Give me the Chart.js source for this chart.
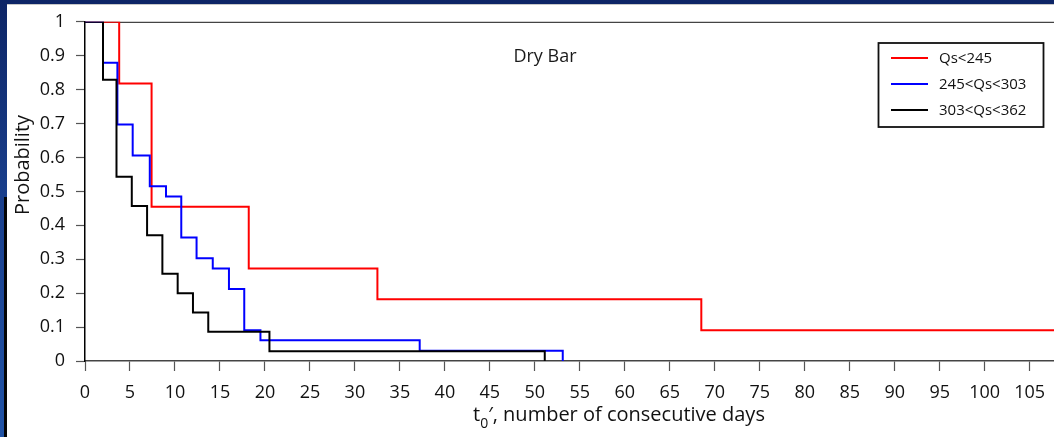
<!DOCTYPE html>
<html>
<head>
  <title>Dry Bar</title>
  <style>
    body {
      margin: 0;
      width: 1054px;
      height: 437px;
      overflow: hidden;
      background: linear-gradient(180deg, #0d2566 0%, #1a3f8c 45%, #2153a6 100%);
    }
    #sheet {
      position: absolute;
      left: 7px;
      top: 4px;
      right: 0;
      bottom: 0;
      background: #fff;
      border-top: 1px solid #c8c8c8;
    }
    #edge {
      position: absolute;
      left: 4px;
      top: 197px;
      width: 3px;
      bottom: 0;
      background: #050505;
    }
    #chart-box {
      position: absolute;
      left: 0;
      top: 0;
      width: 1054px;
      height: 437px;
    }
  </style>
</head>
<body>
  <div id="sheet"></div>
  <div id="edge"></div>
  <div id="chart-box">
    <canvas id="chart" width="1054" height="437"></canvas>
  </div>
  <script src="https://cdn.jsdelivr.net/npm/chart.js"></script>
  <script>
    // values (days, probability)
    const seriesLabels = ["Qs<245", "245<Qs<303", "303<Qs<362"];
    const seriesColors = ["#ff0000", "#0000ff", "#000000"];

    const redDays = [0, 3.8, 7.4, 18.2, 32.5, 68.5, 107.7];
    const redProb = [1, 0.818, 0.455, 0.273, 0.182, 0.091, 0.091];

    const blueDays = [0, 2.0, 3.6, 5.3, 7.2, 9.0, 10.7, 12.4, 14.2, 16.0, 17.7, 19.5, 37.2, 53.1];
    const blueProb = [1, 0.879, 0.697, 0.606, 0.515, 0.485, 0.364, 0.303, 0.273, 0.212, 0.091, 0.061, 0.030, 0];

    const blackDays = [0, 2.0, 3.5, 5.2, 6.9, 8.6, 10.3, 12.0, 13.7, 20.5, 51.1];
    const blackProb = [1, 0.829, 0.543, 0.457, 0.371, 0.257, 0.2, 0.143, 0.086, 0.029, 0];

    const chartTitle = "Dry Bar";
    const yTitle = "Probability";
    const xTitleMain = "t";
    const xTitleSub = "0";
    const xTitleRest = "\u2032, number of consecutive days";

    const xMin = 0, xMax = 107.7, xStep = 5;
    const yMin = 0, yMax = 1, yStep = 0.1;

    const FONT = '"Open Sans", "Noto Sans", sans-serif';

    function toPoints(days, prob) {
      return days.map((d, i) => ({ x: d, y: prob[i] }));
    }

    const allSeries = [
      toPoints(redDays, redProb),
      toPoints(blueDays, blueProb),
      toPoints(blackDays, blackProb)
    ];

    // frame line on top of the plot + title, legend, axis titles
    const decor = {
      id: "decor",
      beforeDatasetsDraw(chart) {
        const { ctx, chartArea: a } = chart;
        ctx.save();
        ctx.strokeStyle = "#444";
        ctx.lineWidth = 1.2;
        ctx.beginPath();
        ctx.moveTo(a.left, a.top + 0.5);
        ctx.lineTo(a.right, a.top + 0.5);
        ctx.stroke();
        ctx.restore();
      },
      afterDraw(chart) {
        const { ctx } = chart;
        ctx.save();

        // title inside plot
        ctx.fillStyle = "#1a1a1a";
        ctx.font = "18px " + FONT;
        ctx.textAlign = "center";
        ctx.textBaseline = "alphabetic";
        ctx.fillText(chartTitle, 545, 62);

        // legend box
        const lx = 878.5, ly = 43, lw = 165, lh = 84;
        ctx.fillStyle = "#fff";
        ctx.fillRect(lx, ly, lw, lh);
        ctx.strokeStyle = "#111";
        ctx.lineWidth = 1.8;
        ctx.strokeRect(lx, ly, lw, lh);
        ctx.font = "15px " + FONT;
        ctx.textAlign = "left";
        ctx.textBaseline = "middle";
        seriesLabels.forEach((lab, i) => {
          const yy = 58 + i * 26;
          ctx.strokeStyle = seriesColors[i];
          ctx.lineWidth = 2;
          ctx.beginPath();
          ctx.moveTo(891, yy);
          ctx.lineTo(928, yy);
          ctx.stroke();
          ctx.fillStyle = "#111";
          ctx.fillText(lab, 939, yy + 1);
        });

        // y axis title
        ctx.fillStyle = "#111";
        ctx.font = "20px " + FONT;
        ctx.textAlign = "center";
        ctx.textBaseline = "alphabetic";
        ctx.translate(29, 165);
        ctx.rotate(-Math.PI / 2);
        ctx.fillText(yTitle, 0, 0);
        ctx.setTransform(1, 0, 0, 1, 0, 0);

        // x axis title with subscript
        ctx.textAlign = "left";
        let x = 473;
        ctx.font = "20px " + FONT;
        ctx.fillText(xTitleMain, x, 421);
        x += ctx.measureText(xTitleMain).width;
        ctx.font = "14px " + FONT;
        ctx.fillText(xTitleSub, x, 428);
        x += ctx.measureText(xTitleSub).width;
        ctx.font = "20px " + FONT;
        ctx.fillText(xTitleRest, x, 421);

        ctx.restore();
      }
    };

    const chart = new Chart(document.getElementById("chart"), {
      type: "line",
      data: {
        datasets: allSeries.map((pts, i) => ({
          label: seriesLabels[i],
          data: pts,
          borderColor: seriesColors[i],
          backgroundColor: seriesColors[i],
          borderWidth: 2,
          pointRadius: 0,
          stepped: "before",
          fill: false,
          order: 3 - i
        }))
      },
      options: {
        responsive: false,
        animation: false,
        layout: { padding: { top: 18, right: 0, left: 0, bottom: 0 } },
        plugins: {
          legend: { display: false },
          tooltip: { enabled: false }
        },
        scales: {
          x: {
            type: "linear",
            min: xMin,
            max: xMax,
            afterFit(scale) {
              scale.height = 76;
              scale.paddingLeft = 0;
              scale.paddingRight = 0;
            },
            border: { color: "#444", width: 1.5 },
            grid: { drawOnChartArea: false, tickLength: 10, color: "#555", tickWidth: 1.2 },
            ticks: {
              stepSize: xStep,
              includeBounds: false,
              autoSkip: false,
              maxRotation: 0,
              padding: 11,
              color: "#111",
              font: { family: FONT, size: 18 }
            }
          },
          y: {
            min: yMin,
            max: yMax,
            afterFit(scale) { scale.width = 85; },
            border: { color: "#000", width: 1.5 },
            grid: { drawOnChartArea: false, tickLength: 9, color: "#555", tickWidth: 1.2 },
            ticks: {
              stepSize: yStep,
              padding: 11,
              color: "#111",
              font: { family: FONT, size: 18 },
              callback: v => String(+v.toFixed(1))
            }
          }
        }
      },
      plugins: [decor]
    });
  </script>
</body>
</html>
